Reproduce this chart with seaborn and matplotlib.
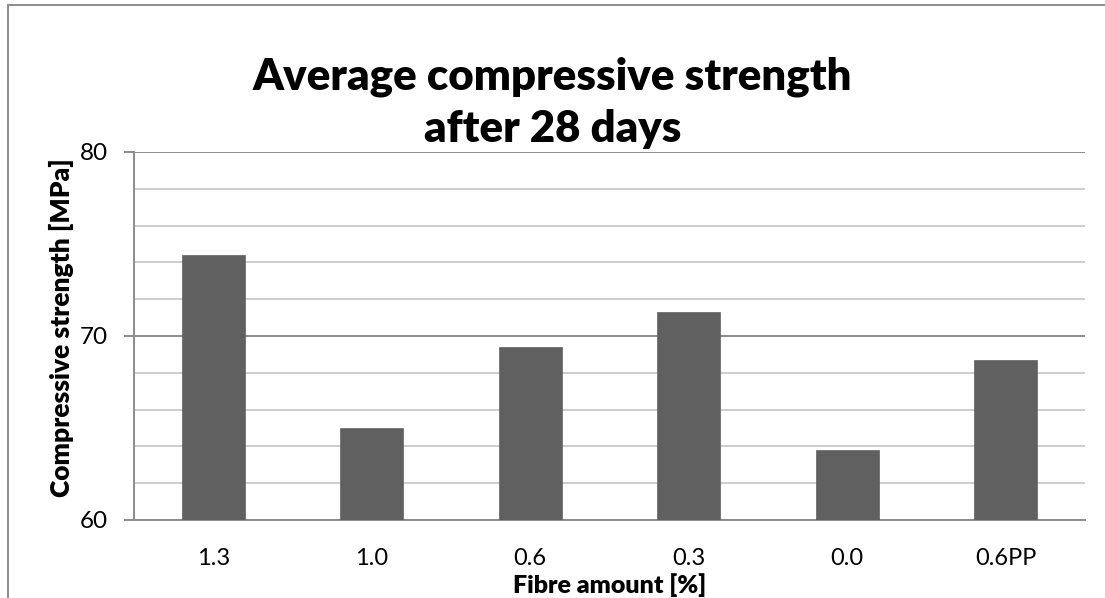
import matplotlib
matplotlib.use("Agg")
import matplotlib.pyplot as plt
from matplotlib.ticker import MultipleLocator, FixedLocator
from matplotlib.lines import Line2D
import seaborn as sns
import pandas as pd

categories = ["1.3", "1.0", "0.6", "0.3", "0.0", "0.6PP"]
strength = [74.4, 65.0, 69.4, 71.3, 63.8, 68.7]

sns.set_style("white")
plt.rcParams["font.family"] = ["Lato", "DejaVu Sans"]
plt.rcParams["text.color"] = "black"
plt.rcParams["axes.labelcolor"] = "black"

df = pd.DataFrame({"fibre": categories, "strength": strength})

fig = plt.figure(figsize=(11.05, 5.98), dpi=100)
ax = fig.add_axes([134 / 1105, 1 - 520 / 598, (1085 - 134) / 1105, (520 - 152) / 598])

sns.barplot(data=df, x="fibre", y="strength", color="#606060", width=0.4,
            saturation=1, ax=ax, zorder=3, edgecolor="#606060", linewidth=0.5)

ax.set_ylim(60, 80)
ax.set_xlim(-0.5, len(categories) - 0.5)
ax.yaxis.set_major_locator(MultipleLocator(10))
ax.yaxis.set_minor_locator(MultipleLocator(2))
ax.grid(which="minor", axis="y", color="#c4c4c4", linewidth=1.2, zorder=0)
ax.grid(which="major", axis="y", color="#8c8c8c", linewidth=1.4, zorder=0)
ax.set_axisbelow(True)

for s in ["top", "right"]:
    ax.spines[s].set_visible(False)
for s in ["left", "bottom"]:
    ax.spines[s].set_color("#8c8c8c")
    ax.spines[s].set_linewidth(1.4)

# x ticks between categories
ax.set_xticks(range(len(categories)))
ax.set_xticklabels(categories)
ax.xaxis.set_minor_locator(FixedLocator([i - 0.5 for i in range(len(categories) + 1)]))
ax.tick_params(axis="x", which="major", length=0, pad=20, labelsize=17, labelcolor="black")
ax.tick_params(axis="x", which="minor", length=7, width=1.4, color="#8c8c8c", direction="out")
ax.tick_params(axis="y", which="major", length=7, width=1.4, color="#8c8c8c", direction="out",
               labelsize=17.5, labelcolor="black", pad=12, left=True)
ax.tick_params(axis="y", which="minor", length=0)

ax.set_xlabel("Fibre amount [%]", fontsize=18, fontweight="heavy", color="black")
ax.xaxis.set_label_coords(0.5, -0.145)
ax.set_ylabel("")
ax.text((61 - 134) / 951, 0.523, "Compressive strength [MPa]", transform=ax.transAxes,
        rotation=90, rotation_mode="default", ha="center", va="center",
        fontsize=19, fontweight="heavy", color="black")

fig.text(0.5, 1 - 103 / 598, "Average compressive strength\nafter 28 days", ha="center",
         va="center", fontsize=31.5, fontweight="heavy", linespacing=1.35, color="black")

# chart border
fig.add_artist(Line2D([8 / 1105, 8 / 1105], [0, 1 - 5 / 598], transform=fig.transFigure,
                      color="#8c8c8c", linewidth=1.4))
fig.add_artist(Line2D([8 / 1105, 1], [1 - 5 / 598, 1 - 5 / 598], transform=fig.transFigure,
                      color="#8c8c8c", linewidth=1.4))

fig.savefig("out.png", dpi=100)
